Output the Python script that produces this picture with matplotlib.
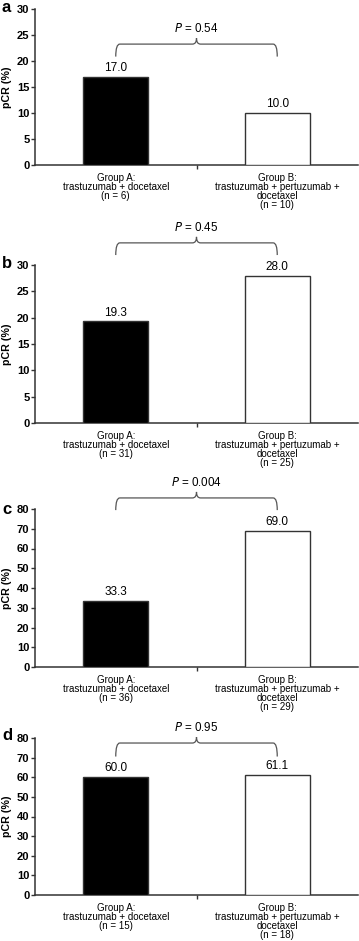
import matplotlib
matplotlib.use("Agg")
import matplotlib.pyplot as plt
from matplotlib.path import Path
from matplotlib.patches import PathPatch
import matplotlib.transforms as mtransforms

plt.rcParams['font.family'] = ['Liberation Sans', 'DejaVu Sans']

# ---- data ----
panel_letters = ["a", "b", "c", "d"]
values_a = [17.0, 10.0]
values_b = [19.3, 28.0]
values_c = [33.3, 69.0]
values_d = [60.0, 61.1]
n_a = [6, 10]
n_b = [31, 25]
n_c = [36, 29]
n_d = [15, 18]
p_values = ["0.54", "0.45", "0.004", "0.95"]
y_max = [30, 30, 80, 80]
y_step = [5, 5, 10, 10]
group_names = ["Group A:\ntrastuzumab + docetaxel", "Group B:\ntrastuzumab + pertuzumab +\ndocetaxel"]

all_values = [values_a, values_b, values_c, values_d]
all_n = [n_a, n_b, n_c, n_d]

# ---- layout (pixels) ----
W, H = 359, 941
fig = plt.figure(figsize=(W / 100, H / 100), dpi=100)
axes_px = [(9, 165), (265, 423), (509, 667), (738, 895)]  # top, bottom
letter_y = [7, 264, 509, 735]
# bracket level, end level (axes fraction)
bracket_levels = [(0.775, 0.695), (1.14, 1.063), (1.07, 0.993), (0.968, 0.882)]

edge = "#333333"
left_px, right_px = 35, 358

for i in range(4):
    top, bot = axes_px[i]
    ax = fig.add_axes([left_px / W, 1 - bot / H, (right_px - left_px) / W, (bot - top) / H])
    vals = all_values[i]
    ax.bar([0, 1], vals, width=0.4, color=["black", "white"], edgecolor=edge, linewidth=1.0, zorder=3)
    ax.set_xlim(-0.5, 1.5)
    ax.set_ylim(0, y_max[i])
    ax.set_yticks(range(0, y_max[i] + 1, y_step[i]))
    for sp in ["top", "right"]:
        ax.spines[sp].set_visible(False)
    for sp in ["left", "bottom"]:
        ax.spines[sp].set_color(edge)
        ax.spines[sp].set_linewidth(1.1)
    ax.tick_params(axis="y", length=3, width=1.0, color=edge, pad=1, labelsize=8)
    for lab in ax.get_yticklabels():
        lab.set_fontweight("bold")
    labels = [f"{group_names[j]}\n(n = {all_n[i][j]})" for j in range(2)]
    ax.set_xticks([0, 1])
    ax.set_xticklabels(labels, fontsize=7, linespacing=0.88)
    ax.tick_params(axis="x", which="major", length=0, pad=5.5)
    ax.set_xticks([0.5], minor=True)
    ax.tick_params(axis="x", which="minor", length=3, width=1.0, color=edge)
    ax.set_ylabel("pCR (%)", fontsize=7.7, fontweight="bold")
    ax.yaxis.set_label_coords(-0.072, 0.5)

    for j, v in enumerate(vals):
        ax.annotate(f"{v:.1f}", (j, v), xytext=(0, 2), textcoords="offset points",
                    ha="center", va="bottom", fontsize=8.5)

    # bracket
    trans = mtransforms.blended_transform_factory(ax.transData, ax.transAxes)
    yl, ye = bracket_levels[i]
    px_frac = 1.0 / (bot - top)
    yp = yl + 6 * px_frac
    dx = 0.025
    verts = [(0, ye), (0, yl), (dx, yl), (0.5 - dx, yl), (0.5, yl), (0.5, yp),
             (0.5, yl), (0.5 + dx, yl), (1 - dx, yl), (1, yl), (1, ye)]
    codes = [Path.MOVETO, Path.CURVE3, Path.CURVE3, Path.LINETO, Path.CURVE3, Path.CURVE3,
             Path.CURVE3, Path.CURVE3, Path.LINETO, Path.CURVE3, Path.CURVE3]
    patch = PathPatch(Path(verts, codes), transform=trans, fill=False, edgecolor="#555555",
                      linewidth=0.9, clip_on=False)
    ax.add_patch(patch)
    ax.text(0.5, yp + 3 * px_frac, f"$\\it{{P}}$ = {p_values[i]}", transform=trans,
            ha="center", va="bottom", fontsize=8.4)

    fig.text(2 / W, 1 - letter_y[i] / H, panel_letters[i], fontsize=12, fontweight="bold",
             ha="left", va="center")

fig.savefig("out.png", dpi=100)
